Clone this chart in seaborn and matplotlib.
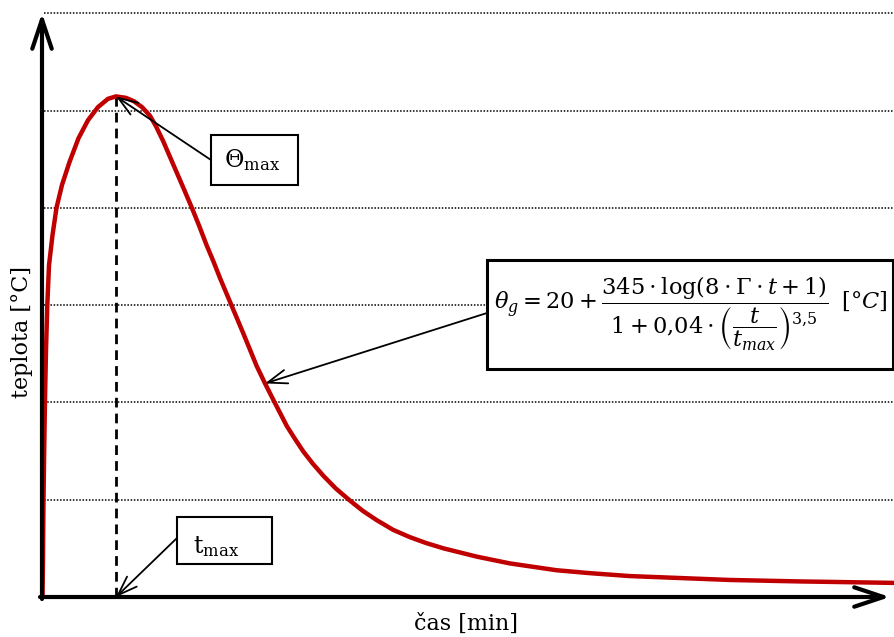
import numpy as np
import pandas as pd
import matplotlib
matplotlib.use("Agg")
import matplotlib.pyplot as plt
import seaborn as sns
from matplotlib.patches import Rectangle

# Parametric fire curve: time [min] and gas temperature [°C]
cas_min = [0.14, 0.27, 0.41, 0.60, 0.82, 1.10, 1.45, 1.92, 2.88, 3.97, 5.48, 7.53,
           10.0, 12.6, 15.34, 18.08, 20.27,
           23.0, 25.2, 27.4, 29.6, 31.2, 33.2, 35.1, 37.0, 38.9, 41.0, 43.0, 45.1,
           46.9, 48.8, 52.0, 55.2, 58.8, 61.1, 63.8, 67.1, 69.3, 71.6, 74.2, 77.1,
           80.5, 84.4, 87.9, 91.7, 96.2, 100.8, 105.2, 110.0, 119.1, 128.2, 141.0,
           150.1, 161.1, 174.8, 188.5, 207.7, 233.4]
teplota_c = [0, 76, 199, 302, 405, 508, 600, 682, 744, 800, 847, 894,
             943, 980, 1007, 1024, 1029,
             1026, 1019, 1007, 989, 968, 937, 904, 871, 838, 801, 764, 723,
             691, 655, 598, 541, 475, 439, 399, 351, 325, 299, 274, 249,
             223, 198, 177, 158, 138, 123, 111, 100, 83, 69, 55,
             49, 43, 39, 35, 32, 29]
# temperature levels marked with dotted lines
hladiny = [200, 400, 600, 800, 1000, 1200]

sns.set_theme(style="white")
plt.rcParams["font.family"] = ["DejaVu Serif"]
plt.rcParams["mathtext.fontset"] = "dejavuserif"
plt.rcParams["text.color"] = "black"

W, H = 894, 637
fig = plt.figure(figsize=(W / 100, H / 100), dpi=100)
ax = fig.add_axes([42 / W, 1 - 597 / H, 852 / W, 597 / H])
ax.set_xlim(0, 852 / 3.65)
ax.set_ylim(0, 597 / 0.4865)
for s in ax.spines.values():
    s.set_visible(False)
ax.set_xticks([])
ax.set_yticks([])
ax.patch.set_alpha(0)


def fp(x, y):
    """pixel position (from top-left) -> figure fraction"""
    return (x / W, 1 - y / H)


df = pd.DataFrame({"cas": cas_min, "teplota": teplota_c})

ax.hlines(hladiny, 0.6, ax.get_xlim()[1], colors="black",
          linestyles=(0, (1, 1.1)), lw=1.1, zorder=1)

i_max = int(np.argmax(teplota_c))
t_max, th_max = cas_min[i_max], teplota_c[i_max]
ax.vlines(t_max, 0, th_max, colors="black", linestyles=(0, (3.5, 2.2)), lw=2, zorder=2)

sns.lineplot(data=df, x="cas", y="teplota", ax=ax, color="#C00000", lw=3.2,
             sort=False, zorder=3)
ax.set_xlabel("")
ax.set_ylabel("")
fig.text(*fp(466, 624), "čas [min]", ha="center", va="center", fontsize=16)
fig.text(*fp(22, 332), "teplota [°C]", ha="center", va="center", fontsize=16,
         rotation=90)

# coordinate axes drawn as arrows
axis_arrow = dict(arrowstyle="->,head_length=21,head_width=7", mutation_scale=1,
                  lw=3, color="black", shrinkA=0, shrinkB=0)
ax.annotate("", xy=fp(42, 13), xytext=fp(42, 599), xycoords="figure fraction",
            textcoords="figure fraction", arrowprops=axis_arrow, zorder=6)
ax.annotate("", xy=fp(890, 597), xytext=fp(40, 597), xycoords="figure fraction",
            textcoords="figure fraction", arrowprops=axis_arrow, zorder=6)


def box(x0, y0, x1, y1, lw):
    fig.add_artist(Rectangle(fp(x0, y1), (x1 - x0) / W, (y1 - y0) / H,
                             transform=fig.transFigure, fc="white", ec="black",
                             lw=lw, zorder=5))


pointer = dict(arrowstyle="->,head_length=14,head_width=5", mutation_scale=1,
               lw=1.3, color="black", shrinkA=0, shrinkB=0)

# Θmax callout
ax.annotate("", xy=(t_max, th_max), xycoords="data", xytext=fp(211, 160),
            textcoords="figure fraction", arrowprops=pointer, zorder=4)
box(211, 135, 298, 185, 1.5)
fig.text(*fp(252, 160), r"$\Theta_{\mathrm{max}}$", ha="center", va="center",
         fontsize=17, zorder=6)

# tmax callout
ax.annotate("", xy=(t_max, 0), xycoords="data", xytext=fp(177, 538),
            textcoords="figure fraction", arrowprops=pointer, zorder=4)
box(177, 517, 272, 564, 1.5)
fig.text(*fp(193, 553), r"$\mathrm{t}_{\mathrm{max}}$", ha="left", va="baseline",
         fontsize=17, zorder=6)

# formula callout
i_f = cas_min.index(61.1)
ax.annotate("", xy=(cas_min[i_f], teplota_c[i_f]), xycoords="data", xytext=fp(487, 313),
            textcoords="figure fraction", arrowprops=pointer, zorder=4)
box(487, 260, 893, 369, 2.2)
fig.text(*fp(691, 314),
         r"$\theta_g = 20 + \dfrac{345\cdot\log(8\cdot\mathit{\Gamma}\cdot t + 1)}"
         r"{1 + 0{,}04\cdot\left(\dfrac{t}{t_{max}}\right)^{3{,}5}}\;\;[\mathrm{°}C]$",
         ha="center", va="center", fontsize=16.2, zorder=6)

fig.savefig("out.png", dpi=100)
